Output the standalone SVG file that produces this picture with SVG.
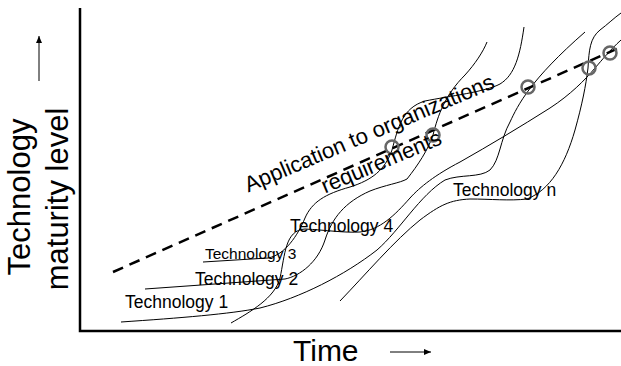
<svg xmlns="http://www.w3.org/2000/svg" width="621" height="366" viewBox="0 0 621 366">
<style>
.axis{stroke:#000;stroke-width:2.5;fill:none}
.curve{stroke:#000;stroke-width:1;fill:none}
.dash{stroke:#000;stroke-width:2.5;fill:none;stroke-dasharray:11,7}
.pt{stroke:#666;stroke-width:2.5;fill:none}
.lbl{font-family:"Liberation Sans",Arial,sans-serif;fill:#000}
</style>
<defs>
<marker id="ah" markerWidth="8" markerHeight="8" refX="7" refY="4" orient="auto" markerUnits="userSpaceOnUse">
<path d="M0,1 L7,4 L0,7 Z" fill="#000"/>
</marker>
</defs>
<rect width="621" height="366" fill="#fff"/>
<g id="axes">
<path class="axis" d="M80,8 L80,331 L621,331"/>
<line x1="39" y1="81" x2="39" y2="36" stroke="#000" stroke-width="1" marker-end="url(#ah)"/>
<line x1="390" y1="352" x2="431" y2="352" stroke="#000" stroke-width="1" marker-end="url(#ah)"/>
<text class="lbl" font-size="31" text-anchor="middle" transform="translate(30,197) rotate(-90)">Technology</text>
<text class="lbl" font-size="31" text-anchor="middle" transform="translate(68,199) rotate(-90)">maturity level</text>
<text class="lbl" font-size="30" x="293" y="361">Time</text>
</g>
<g id="connectors">
<path id="tech1" class="curve" d="M121,322 C180,318 230,314 260,308 C300,298 345,275 377,250 C400,230 420,195 445,180 C460,174 480,178 490,170 C500,160 500,140 510,122 C518,105 530,80 585,32"/>
<path id="tech2" class="curve" d="M145,289 L285,279 C300,276 318,262 325,240 C332,218 345,202 370,191 C385,185 400,183 407,179 C418,165 428,150 433,135 C438,115 445,95 465,75 C475,64 483,52 487,42"/>
<path id="tech3" class="curve" d="M203,262 L268,258 C285,255 298,235 305,218 C312,202 325,194 350,187 C372,180 385,170 392,150 C398,128 402,108 425,101 C450,96 485,92 500,84 C515,75 520,55 524,27"/>
<path id="tech4" class="curve" d="M231,323 C250,312 275,298 280,278 C285,255 285,230 305,229 C325,230 345,233 360,232 C380,230 395,215 410,198 C420,187 435,175 460,162 C490,145 520,127 550,108 C570,95 585,80 595,68 C602,60 610,50 621,40"/>
<path id="techn" class="curve" d="M340,301 C365,275 395,240 420,220 C440,205 450,200 470,199 C490,199 510,201 527,199 C550,190 565,165 575,130 C582,105 586,85 588,68 C589,50 590,38 600,30 C608,24 614,18 621,13"/>
<path id="application" class="dash" d="M113,272 L621,47"/>
</g>
<g id="points">
<circle class="pt" cx="392" cy="147" r="6.5"/>
<circle class="pt" cx="433" cy="135" r="6.5"/>
<circle class="pt" cx="528" cy="87" r="6.5"/>
<circle class="pt" cx="589" cy="68" r="6.5"/>
<circle class="pt" cx="610" cy="53" r="6.5"/>
</g>
<g id="labels">
<text class="lbl" font-size="17.5" x="125" y="308">Technology 1</text>
<text class="lbl" font-size="17.5" x="195" y="285">Technology 2</text>
<text class="lbl" font-size="15.5" x="205" y="259">Technology 3</text>
<text class="lbl" font-size="17.5" x="290" y="232">Technology 4</text>
<text class="lbl" font-size="17.5" x="453" y="196">Technology n</text>
<g transform="translate(372,140) rotate(-23)">
<text class="lbl" font-size="22" text-anchor="middle" x="0" y="0">Application to organizations</text>
<text class="lbl" font-size="22" text-anchor="middle" x="0" y="31">requirements</text>
</g>
</g>
</svg>
